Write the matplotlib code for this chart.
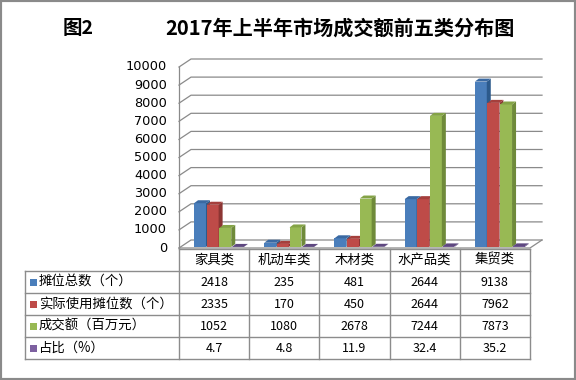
import matplotlib
matplotlib.use("Agg")
import matplotlib.pyplot as plt
from matplotlib.patches import Polygon, Rectangle

plt.rcParams['font.family'] = ['Noto Sans CJK SC', 'DejaVu Sans']

# 数据
categories = ['家具类', '机动车类', '木材类', '水产品类', '集贸类']
series_names = ['摊位总数（个）', '实际使用摊位数（个）', '成交额（百万元）', '占比（%）']
total_stalls = [2418, 235, 481, 2644, 9138]
used_stalls = [2335, 170, 450, 2644, 7962]
turnover = [1052, 1080, 2678, 7244, 7873]
share = [4.7, 4.8, 11.9, 32.4, 35.2]
series = [total_stalls, used_stalls, turnover, share]
yticks = list(range(0, 10001, 1000))

front_c = ['#4A7EBB', '#BE4B48', '#98B954', '#7D60A0']
side_c = ['#2C5A8C', '#8C3533', '#6F8A3A', '#5A4478']
top_c = ['#3A69A2', '#A53F3C', '#84A346', '#5E4880']
grid_c = '#8a8a8a'

W, H = 576, 380
fig = plt.figure(figsize=(5.76, 3.8), dpi=100)

# 主坐标区（3D 前平面）
x0, x1, y0, y1 = 179, 530, 248, 67
ax = fig.add_axes([x0 / W, 1 - y0 / H, (x1 - x0) / W, (y0 - y1) / H])
ax.set_xlim(0, len(categories))
ax.set_ylim(0, 10000)
ax.axis('off')

px = len(categories) / (x1 - x0)   # 1 像素对应的数据单位
py = 10000 / (y0 - y1)
wdx, wdy = 12 * px, 8 * py   # 背景墙深度
bdx, bdy = 4 * px, 3 * py    # 柱子深度
ox, oy = 1 * px, 1 * py      # 柱子前移

# 网格线 + 刻度
for v in yticks:
    ax.plot([0, wdx, len(categories) + wdx], [v, v + wdy, v + wdy],
            color=grid_c, lw=0.9, clip_on=False, zorder=1)
    ax.text(-12 * px, v, str(v), ha='right', va='center', fontsize=9.3,
            family='DejaVu Sans')
ax.plot([0, 0], [0, 10000], color=grid_c, lw=0.9, clip_on=False, zorder=1)
ax.plot([0, len(categories), len(categories) + wdx], [0, 0, wdy],
        color=grid_c, lw=0.9, clip_on=False, zorder=1)

# 3D 柱子
bw = 0.17
for c in range(len(categories)):
    for i, vals in enumerate(series):
        xl = c + 0.2 + i * 0.18 + ox
        v = vals[c]
        ax.bar(xl, v, bw, bottom=oy, align='edge', color=front_c[i],
               edgecolor='none', zorder=2)
        ax.add_patch(Polygon([(xl + bw, oy), (xl + bw + bdx, oy + bdy),
                              (xl + bw + bdx, oy + v + bdy), (xl + bw, oy + v)],
                             closed=True, fc=side_c[i], ec='none', zorder=2,
                             clip_on=False))
        ax.add_patch(Polygon([(xl, oy + v), (xl + bw, oy + v),
                              (xl + bw + bdx, oy + v + bdy), (xl + bdx, oy + v + bdy)],
                             closed=True, fc=top_c[i], ec='none', zorder=2,
                             clip_on=False))

# 数据表
tax = fig.add_axes([0, 0, 1, 1], zorder=-1)
tax.set_xlim(0, W)
tax.set_ylim(H, 0)
tax.axis('off')
col_edges = [25] + [x0 + k * (x1 - x0) / len(categories) for k in range(len(categories) + 1)]
row_edges = [249, 271, 293, 315, 337, 359]
line_c = '#8c8c8c'
tax.plot([x0, x1], [row_edges[0]] * 2, color=line_c, lw=1)
for y in row_edges[1:]:
    tax.plot([col_edges[0], x1], [y, y], color=line_c, lw=1)
tax.plot([col_edges[0]] * 2, [row_edges[1], row_edges[-1]], color=line_c, lw=1)
for x in col_edges[1:]:
    tax.plot([x, x], [row_edges[0], row_edges[-1]], color=line_c, lw=1)

for k, name in enumerate(categories):
    cx = (col_edges[k + 1] + col_edges[k + 2]) / 2
    tax.text(cx, (row_edges[0] + row_edges[1]) / 2, name, ha='center',
             va='center', fontsize=9.6)
for i, (name, vals) in enumerate(zip(series_names, series)):
    cy = (row_edges[i + 1] + row_edges[i + 2]) / 2
    tax.add_patch(Rectangle((30, cy - 3.5), 7, 7, fc=front_c[i], ec='none'))
    tax.text(39, cy, name, ha='left', va='center', fontsize=9.6)
    for k, v in enumerate(vals):
        cx = (col_edges[k + 1] + col_edges[k + 2]) / 2
        tax.text(cx, cy, str(v), ha='center', va='center', fontsize=9)

# 标题
fig.text(78 / W, 1 - 28 / H, '图2', fontsize=14, fontweight='bold',
         ha='center', va='center')
fig.text(340 / W, 1 - 28 / H, '2017年上半年市场成交额前五类分布图', fontsize=14.5,
         fontweight='bold', ha='center', va='center')

# 外框
fig.patches.append(Rectangle((0, 0), 1, 1, transform=fig.transFigure,
                             fill=False, ec='#8a8a8a', lw=3))

fig.savefig('out.png', dpi=100)
